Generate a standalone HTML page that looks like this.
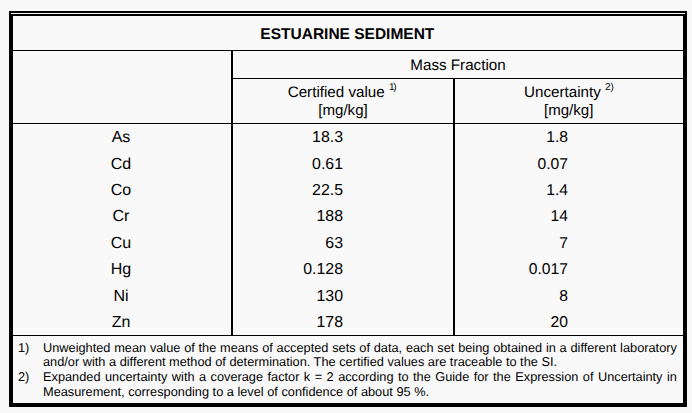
<!DOCTYPE html>
<html><head><meta charset="utf-8"><title>Estuarine Sediment</title>
<style>
html,body{margin:0;padding:0;}
body{width:692px;height:413px;background:#f9f9f9;position:relative;overflow:hidden;
 font-family:"Liberation Sans",sans-serif;color:#000;text-rendering:geometricPrecision;}
.l{position:absolute;background:#000;}
.t{position:absolute;white-space:nowrap;font-size:15.2px;line-height:20px;}
.c{text-align:center;}
.r{text-align:right;}
.f{position:absolute;font-size:12.78px;line-height:14.7px;left:43px;width:633.9px;text-align:justify;text-align-last:justify;white-space:nowrap;}
.fl{text-align-last:left;}
.n{position:absolute;font-size:12.78px;line-height:14.7px;left:18px;}
sup{font-size:10px;line-height:0;vertical-align:baseline;position:relative;top:-7px;}
</style></head><body>

<div class="l" style="left:9px;top:11px;width:678px;height:2px"></div>
<div class="l" style="left:9px;top:11px;width:2px;height:396px"></div>
<div class="l" style="left:685px;top:11px;width:2px;height:396px"></div>
<div class="l" style="left:9px;top:403px;width:678px;height:4px"></div>
<div class="l" style="left:11px;top:14px;width:674px;height:2px"></div>
<div class="l" style="left:11px;top:14px;width:2px;height:391px"></div>
<div class="l" style="left:683px;top:14px;width:2px;height:391px"></div>
<div class="l" style="left:13px;top:50px;width:670px;height:1px"></div>
<div class="l" style="left:233px;top:78px;width:450px;height:1px"></div>
<div class="l" style="left:13px;top:123px;width:670px;height:1px"></div>
<div class="l" style="left:13px;top:335px;width:670px;height:1px"></div>
<div class="l" style="left:231px;top:50px;width:2px;height:285px"></div>
<div class="l" style="left:453px;top:78px;width:2px;height:257px"></div>
<div class="t c" style="left:12.35px;width:670px;top:25.00px;font-weight:bold;font-size:15.5px;">ESTUARINE SEDIMENT</div>
<div class="t c" style="left:233px;width:450px;top:56.00px;">Mass Fraction</div>
<div class="t c" style="left:231.6px;width:220px;top:83.00px;">Certified value <sup style="letter-spacing:-1.2px">1)</sup></div>
<div class="t c" style="left:233px;width:220px;top:101.00px;font-size:15.1px;">[mg/kg]</div>
<div class="t c" style="left:455px;width:228px;top:83.00px;">Uncertainty <sup>2)</sup></div>
<div class="t c" style="left:454.7px;width:228px;top:101.00px;font-size:15.1px;">[mg/kg]</div>
<div class="t c" style="left:12.0px;width:218px;top:128.00px;font-size:16px;">As</div>
<div class="t r" style="left:243px;width:100px;top:128.00px;font-size:15.9px;">18.3</div>
<div class="t r" style="left:468px;width:100px;top:128.00px;font-size:15.7px;">1.8</div>
<div class="t c" style="left:12.0px;width:218px;top:155.00px;font-size:16px;">Cd</div>
<div class="t r" style="left:243px;width:100px;top:155.00px;font-size:15.9px;">0.61</div>
<div class="t r" style="left:468px;width:100px;top:155.00px;font-size:15.7px;">0.07</div>
<div class="t c" style="left:12.0px;width:218px;top:181.00px;font-size:16px;">Co</div>
<div class="t r" style="left:243px;width:100px;top:181.00px;font-size:15.9px;">22.5</div>
<div class="t r" style="left:468px;width:100px;top:181.00px;font-size:15.7px;">1.4</div>
<div class="t c" style="left:12.0px;width:218px;top:207.00px;font-size:16px;">Cr</div>
<div class="t r" style="left:243px;width:100px;top:207.00px;font-size:15.9px;">188</div>
<div class="t r" style="left:468px;width:100px;top:207.00px;font-size:15.7px;">14</div>
<div class="t c" style="left:12.0px;width:218px;top:234.00px;font-size:16px;">Cu</div>
<div class="t r" style="left:243px;width:100px;top:234.00px;font-size:15.9px;">63</div>
<div class="t r" style="left:468px;width:100px;top:234.00px;font-size:15.7px;">7</div>
<div class="t c" style="left:12.0px;width:218px;top:260.00px;font-size:16px;">Hg</div>
<div class="t r" style="left:243px;width:100px;top:260.00px;font-size:15.9px;">0.128</div>
<div class="t r" style="left:468px;width:100px;top:260.00px;font-size:15.7px;">0.017</div>
<div class="t c" style="left:12.0px;width:218px;top:287.00px;font-size:16px;">Ni</div>
<div class="t r" style="left:243px;width:100px;top:287.00px;font-size:15.9px;">130</div>
<div class="t r" style="left:468px;width:100px;top:287.00px;font-size:15.7px;">8</div>
<div class="t c" style="left:12.0px;width:218px;top:313.00px;font-size:16px;">Zn</div>
<div class="t r" style="left:243px;width:100px;top:313.00px;font-size:15.9px;">178</div>
<div class="t r" style="left:468px;width:100px;top:313.00px;font-size:15.7px;">20</div>
<div class="n" style="top:340.75px">1)</div>
<div class="f" style="top:340.75px">Unweighted mean value of the means of accepted sets of data, each set being obtained in a different laboratory</div>
<div class="f fl" style="top:355.45px">and/or with a different method of determination. The certified values are traceable to the SI.</div>
<div class="n" style="top:370.15px">2)</div>
<div class="f" style="top:370.15px">Expanded uncertainty with a coverage factor k = 2 according to the Guide for the Expression of Uncertainty in</div>
<div class="f fl" style="top:384.85px">Measurement, corresponding to a level of confidence of about 95 %.</div>
</body></html>
